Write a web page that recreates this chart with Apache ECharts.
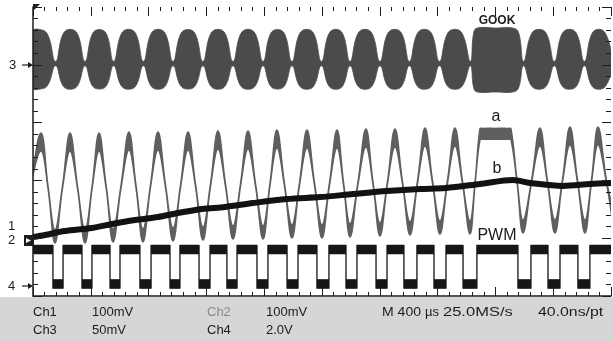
<!DOCTYPE html>
<html><head><meta charset="utf-8">
<script src="https://cdn.jsdelivr.net/npm/echarts@6/dist/echarts.min.js"></script>
<style>html,body{margin:0;padding:0;background:#fff}#c{width:613px;height:341px}</style>
</head><body><div id="c"></div>
<script>
// Horizontal: time in µs (10 div x 400 µs). Vertical: graticule minor units (0..25).
const timeMax = 4000, timeDiv = 400;
const vMax = 25, vDiv = 5;

// GOOK burst envelope (Ch3): time, upper envelope, lower envelope
const gookT = [0,40,100,156, 207,258,309,360, 410,459,509,558, 610,661,713,764, 815,867,918,969,
  1021,1073,1124,1176, 1228,1280,1332,1384, 1436,1488,1540,1592, 1642,1692,1742,1792,
  1843,1894,1945,1996, 2046,2095,2145,2194, 2246,2298,2349,2401, 2452,2503,2554,2605,
  2657,2709,2761,2813, 2866,2920,2973,3027, 3050,3075,3200,3320,3360,3395,
  3448,3502,3555,3608, 3660,3712,3764,3816, 3866,3915,3965,4015];
const gookTop = [22.9,23.07,22.65,20.3, 22.65,23.07,22.65,20.3, 22.65,23.05,22.65,20.3, 22.65,23.07,22.65,20.3,
  22.65,23.07,22.65,20.3, 22.65,23.05,22.65,20.3, 22.65,23.07,22.65,20.3, 22.65,23.07,22.65,20.3,
  22.65,23.05,22.65,20.3, 22.65,23.07,22.65,20.3, 22.65,23.07,22.65,20.3, 22.65,23.07,22.65,20.3,
  22.65,23.07,22.65,20.3, 22.65,23.07,22.65,20.3, 22.65,23.07,22.65,20.3, 22.8,23.18,23.18,23.18,22.8,20.3,
  22.65,23.07,22.65,20.3, 22.65,23.07,22.65,20.3, 22.65,23.07,22.65,20.3];
const gookBot = [18.0,17.88,18.2,19.92, 18.2,17.88,18.2,19.92, 18.2,17.9,18.2,19.92, 18.2,17.88,18.2,19.92,
  18.2,17.88,18.2,19.92, 18.2,17.9,18.2,19.92, 18.2,17.88,18.2,19.92, 18.2,17.88,18.2,19.92,
  18.2,17.9,18.2,19.92, 18.2,17.88,18.2,19.92, 18.2,17.88,18.2,19.92, 18.2,17.88,18.2,19.92,
  18.2,17.88,18.2,19.92, 18.2,17.88,18.2,19.92, 18.2,17.88,18.2,19.92, 18.0,17.65,17.65,17.65,18.0,19.92,
  18.2,17.88,18.2,19.92, 18.2,17.88,18.2,19.92, 18.2,17.88,18.2,19.92];

// Trace a (Ch1): peaks, troughs and mid-slope crossings, upper / lower edge of the noisy trace
const aT = [-97,-21,55,104,152,204,256,308,360,409,457,506,554,609,664,713,761,813,865,917,969,1021,1073,1125,
  1176,1228,1280,1332,1384,1436,1488,1540,1592,1640,1688,1740,1792,1844,1896,1948,2000,2052,2104,2149,2194,
  2249,2304,2353,2401,2453,2505,2557,2609,2661,2713,2765,2816,2868,2920,2972,3024,3060,3093,3114,3197,3287,3308,
  3350,3391,3450,3508,3560,3612,3664,3716,3768,3820,3865,3910,3968,4025];
const aHi = [5.71,9.5,14.10,9.5,5.71,9.5,14.10,9.5,5.71,9.5,14.10,9.55,5.80,9.55,14.19,9.55,5.80,9.6,14.19,9.6,5.88,9.6,14.19,9.65,
  5.97,9.65,14.27,9.7,6.06,9.7,14.27,9.7,6.06,9.75,14.36,9.75,6.14,9.75,14.36,9.8,6.14,9.8,14.36,9.8,6.23,
  9.85,14.45,9.85,6.32,9.9,14.45,9.9,6.40,9.95,14.53,9.95,6.49,9.95,14.53,9.95,6.49,10.0,14.45,14.50,14.50,14.50,14.45,
  10.0,6.57,10.0,14.53,10.0,6.57,10.05,14.62,10.05,6.57,10.05,14.62,10.05,6.57];
const aLo = [4.58,9.3,12.54,9.3,4.58,9.3,12.54,9.3,4.58,9.3,12.54,9.35,4.67,9.35,12.63,9.35,4.67,9.4,12.63,9.4,4.76,9.4,12.63,9.45,
  4.84,9.45,12.72,9.5,4.93,9.5,12.72,9.5,4.93,9.55,12.80,9.55,5.02,9.55,12.80,9.6,5.02,9.6,12.80,9.6,5.10,
  9.65,12.89,9.65,5.19,9.7,12.89,9.7,5.28,9.75,12.98,9.75,5.36,9.75,12.98,9.75,5.36,9.8,13.50,13.55,13.55,13.55,13.50,
  9.8,5.45,9.8,12.98,9.8,5.45,9.85,13.06,9.85,5.45,9.85,13.06,9.85,5.45];

// Trace b (Ch2): slow ramp
const bT = [0,83,221,408,547,706,865,1003,1170,1329,1522,1758,1986,2214,2450,2678,2858,3093,3322,3439,3668,3854,4000];
const bV = [5.10,5.28,5.62,5.88,6.23,6.57,6.83,7.18,7.53,7.70,8.04,8.39,8.56,8.82,9.08,9.26,9.34,9.69,10.03,9.78,9.52,9.69,9.78];

// PWM (Ch4): falling / rising edge times and levels
const pwmFall = [138,339,533,740,948,1149,1342,1550,1758,1965,2166,2374,2567,2775,2976,3356,3564,3771];
const pwmRise = [208,408,602,817,1017,1225,1412,1626,1834,2048,2242,2450,2657,2858,3072,3446,3647,3854];
const pwmHigh = 4.02, pwmLow = 1.04, pwmNoise = 0.72;

// Band outlines (upper edge forward, lower edge backward) in data coordinates
function bandPts(ts, up, dn) {
  const u = ts.map((t,i)=>[t,up[i]]);
  const d = ts.map((t,i)=>[t,dn[i]]).reverse();
  return u.concat(d);
}
const gookPoly = bandPts(gookT, gookTop, gookBot);
const aPoly = bandPts(aT, aHi, aLo);
const pT = [0], pUp = [pwmHigh + pwmNoise/2], pDn = [pwmHigh - pwmNoise/2];
pwmFall.forEach((f,i)=>{
  const r = pwmRise[i];
  pT.push(f,f,r,r);
  pUp.push(pwmHigh + pwmNoise/2, pwmLow + pwmNoise/2, pwmLow + pwmNoise/2, pwmHigh + pwmNoise/2);
  pDn.push(pwmHigh - pwmNoise/2, pwmLow - pwmNoise/2, pwmLow - pwmNoise/2, pwmHigh - pwmNoise/2);
});
pT.push(timeMax); pUp.push(pwmHigh + pwmNoise/2); pDn.push(pwmHigh - pwmNoise/2);
const pwmPoly = bandPts(pT, pUp, pDn);
const bData = bT.map((t,i)=>[t,bV[i]]);

const ink = '#1c1c1c';
function bandSeries(poly, fill, stroke, lw, smooth, z) {
  return {type:'custom', coordinateSystem:'cartesian2d', clip:true, z:z, silent:true,
    data:[[0,0]],
    renderItem:function(params, api){
      const pts = poly.map(p=>api.coord(p));
      return {type:'polygon', shape:{points:pts, smooth:smooth},
              style:{fill:fill, stroke:stroke, lineWidth:lw, lineJoin:'round'}};
    }};
}
const xa = (pos,line)=>({type:'value',min:0,max:timeMax,interval:timeDiv,position:pos,z:10,
  axisLine:{show:line,onZero:false,lineStyle:{color:ink,width:1.5}},
  axisTick:{show:true,inside:true,length:9,lineStyle:{color:ink,width:1}},
  minorTick:{show:true,splitNumber:5,length:4,lineStyle:{color:ink,width:1}},
  axisLabel:{show:false}, splitLine:{show:false}});
const ya = (pos,line)=>({type:'value',min:0,max:vMax,interval:vDiv,position:pos,z:10,
  axisLine:{show:line,onZero:false,lineStyle:{color:ink,width:1.5}},
  axisTick:{show:true,inside:true,length:9,lineStyle:{color:ink,width:1}},
  minorTick:{show:true,splitNumber:5,length:5,lineStyle:{color:ink,width:1}},
  axisLabel:{show:false}, splitLine:{show:false}});

const gCol = '#4b4b4b', aCol = '#5f5f5f', bCol = '#121212', pCol = '#161616';
const txt = (x,y,s,font,fill,align,sx)=>({type:'text',x:x,y:y,z:100,scaleX:sx||1,style:{text:s,font:font,fill:fill||ink,textAlign:align||'left',textVerticalAlign:'middle'}});
const F = '13px "Liberation Sans", Arial, sans-serif';
const FA = '16px "Liberation Sans", Arial, sans-serif';

const chart = echarts.init(document.getElementById('c'), null, {renderer:'canvas'});
chart.setOption({
  animation:false,
  grid:{left:33,right:2,top:7,bottom:45},
  xAxis:[xa('bottom',true), xa('top',false)],
  yAxis:[ya('left',true), ya('right',false)],
  series:[
    bandSeries(gookPoly, gCol, gCol, 0.8, 0.45, 2),
    bandSeries(aPoly, aCol, aCol, 1.5, 0.4, 3),
    {type:'line',data:bData,smooth:0.3,symbol:'none',lineStyle:{width:6,color:bCol},z:4,silent:true},
    bandSeries(pwmPoly, pCol, pCol, 1.3, 0, 4)
  ],
  graphic:[
    {type:'rect',shape:{x:0,y:297,width:613,height:44},style:{fill:'#d6d6d6'},z:50},
    {type:'polygon',shape:{points:[[33,4],[40,4],[33,11]]},style:{fill:ink},z:60},
    // channel markers
    txt(9,65,'3',F), {type:'line',shape:{x1:22,y1:65,x2:31,y2:65},style:{stroke:ink,lineWidth:1.2},z:60},
    {type:'polygon',shape:{points:[[28,62],[33,65],[28,68]]},style:{fill:ink},z:60},
    txt(8,226,'1',F),
    txt(8,240,'2',F),
    {type:'rect',shape:{x:24,y:235,width:10,height:11},style:{fill:ink},z:60},
    {type:'polygon',shape:{points:[[26,238],[31,240.5],[26,243]]},style:{fill:'#fff'},z:61},
    txt(8,286,'4',F), {type:'line',shape:{x1:22,y1:286,x2:31,y2:286},style:{stroke:ink,lineWidth:1.2},z:60},
    {type:'polygon',shape:{points:[[28,283],[33,286],[28,289]]},style:{fill:ink},z:60},
    // annotations
    txt(497,21,'GOOK','bold 12px "Liberation Sans", Arial, sans-serif',ink,'center'),
    txt(496,117,'a',FA,ink,'center'),
    txt(497,169,'b',FA,ink,'center'),
    txt(497,236,'PWM',FA,ink,'center'),
    // status panel
    txt(33,312,'Ch1',F), txt(92,312,'100mV',F),
    txt(207,312,'Ch2',F,'#8a8a8a'), txt(266,312,'100mV',F),
    txt(382,312,'M 400',F,ink,'left',1.08), txt(425,312,'µs',F), txt(443,312,'25.0MS/s',F,ink,'left',1.27),
    txt(538,312,'40.0ns/pt',F,ink,'left',1.22),
    txt(33,330,'Ch3',F), txt(92,330,'50mV',F),
    txt(207,330,'Ch4',F), txt(266,330,'2.0V',F)
  ]
});
</script></body></html>
